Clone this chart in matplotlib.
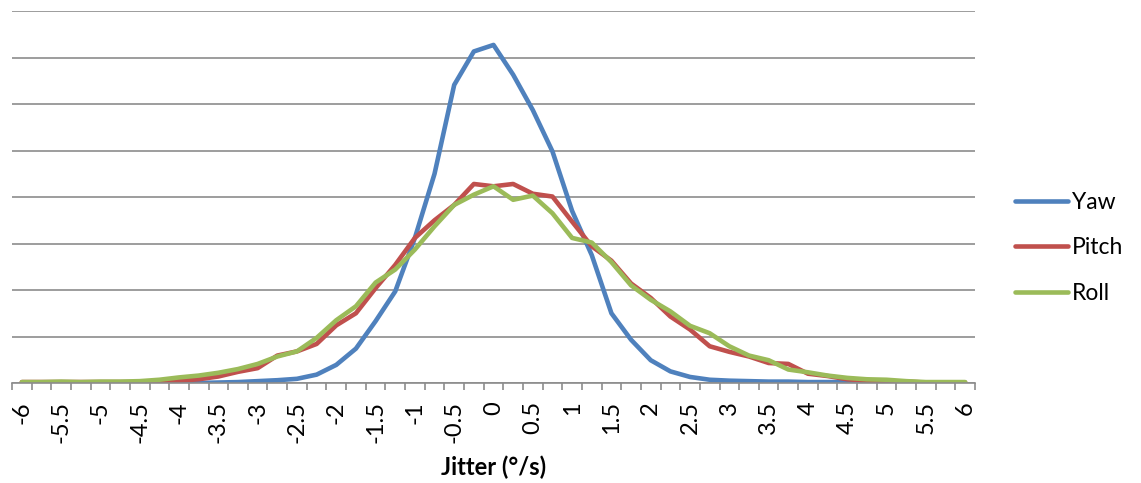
import numpy as np
import matplotlib
matplotlib.use("Agg")
import matplotlib.pyplot as plt
from matplotlib.ticker import FixedLocator, NullFormatter

plt.rcParams['font.family'] = ['Lato', 'DejaVu Sans']

# jitter bins, -6 .. 6 in 0.25 steps (49 categories)
jitter = np.arange(-6, 6.001, 0.25)

yaw = [0, 0, 0, 0, 0, 0, 0, 0, 0, 0.0, 0.01, 0.02, 0.04, 0.06, 0.09, 0.18, 0.39,
       0.74, 1.33, 1.97, 3.12, 4.5, 6.41, 7.13, 7.27, 6.63, 5.87, 4.98, 3.70,
       2.75, 1.50, 0.93, 0.49, 0.25, 0.13, 0.07, 0.05, 0.04, 0.03, 0.03, 0.02,
       0.02, 0.02, 0.01, 0.01, 0.01, 0, 0, 0]

pitch = [0.02, 0.02, 0.02, 0.02, 0.02, 0.02, 0.02, 0.03, 0.05, 0.08, 0.14, 0.24,
         0.32, 0.59, 0.68, 0.84, 1.24, 1.50, 2.04, 2.54, 3.12, 3.50, 3.83, 4.28,
         4.23, 4.28, 4.07, 4.01, 3.47, 2.94, 2.63, 2.14, 1.83, 1.43, 1.15, 0.79,
         0.67, 0.57, 0.43, 0.41, 0.20, 0.15, 0.08, 0.05, 0.04, 0.03, 0.01, 0.01,
         0.01]

roll = [0.02, 0.02, 0.03, 0.02, 0.03, 0.03, 0.04, 0.07, 0.12, 0.16, 0.22, 0.30,
        0.41, 0.57, 0.68, 0.97, 1.35, 1.65, 2.16, 2.44, 2.87, 3.37, 3.83, 4.05,
        4.23, 3.94, 4.03, 3.65, 3.12, 3.02, 2.60, 2.10, 1.79, 1.54, 1.23, 1.07,
        0.79, 0.59, 0.49, 0.29, 0.23, 0.16, 0.11, 0.08, 0.07, 0.04, 0.02, 0.02,
        0.02]

series = [("Yaw", yaw, "#4F81BD"), ("Pitch", pitch, "#C0504D"), ("Roll", roll, "#9BBB59")]

fig = plt.figure(figsize=(11.41, 4.83), dpi=100)
ax = fig.add_axes([12 / 1141, 100 / 483, 963 / 1141, 372 / 483])

pos = np.arange(len(jitter))
for name, vals, col in series:
    ax.plot(pos, vals, color=col, lw=3.3, label=name,
            solid_joinstyle='round', solid_capstyle='round')

ax.set_xlim(-0.5, len(jitter) - 0.5)
ax.set_ylim(0, 8)
ax.set_yticks(range(0, 9))
ax.yaxis.grid(True, color='#8c8c8c', lw=1.2)
ax.set_axisbelow(True)
ax.tick_params(axis='y', left=False, labelleft=False)

for s in ['left', 'right', 'top']:
    ax.spines[s].set_visible(False)
ax.spines['bottom'].set_color('#8c8c8c')
ax.spines['bottom'].set_linewidth(1.2)

# labels every other category, ticks between categories
ax.set_xticks(pos[::2])
ax.set_xticklabels([f"{v:g}" for v in jitter[::2]], rotation=90, fontsize=17)
ax.tick_params(axis='x', which='major', length=0, pad=13)
ax.xaxis.set_minor_locator(FixedLocator(np.arange(-0.5, len(jitter), 1)))
ax.xaxis.set_minor_formatter(NullFormatter())
ax.tick_params(axis='x', which='minor', length=5, width=1.2, color='#8c8c8c')

ax.set_xlabel("Jitter (°/s)", fontsize=17, fontweight='bold')
ax.xaxis.set_label_coords(0.5, -0.226)
ax.xaxis.label.set_va('center')

ax.legend(loc='center left', bbox_to_anchor=(1015 / 1141, 235 / 483),
          bbox_transform=fig.transFigure, frameon=False, fontsize=16.5,
          handlelength=2.3, handletextpad=0.2, labelspacing=1.05,
          borderpad=0, borderaxespad=0)

fig.savefig("out.png", dpi=100)
